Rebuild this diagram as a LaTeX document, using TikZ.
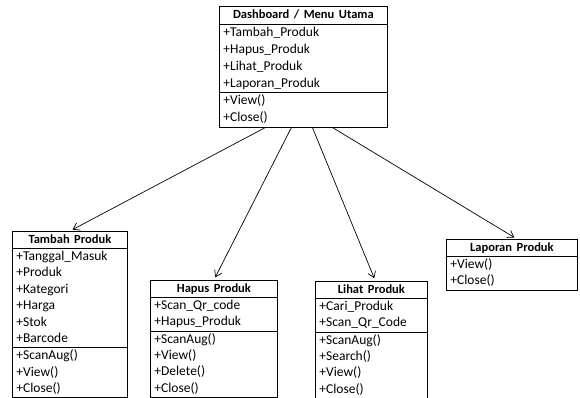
\documentclass[tikz,border=0pt]{standalone}
\usepackage{fontspec}
\setmainfont{Carlito}
\usetikzlibrary{shapes.multipart,arrows.meta}
\newcommand{\judul}[1]{\strut\makebox[\hsize]{\fontsize{12.5}{16}\selectfont\bfseries #1}}

\begin{document}
\begin{tikzpicture}[x=1pt,y=-1pt,
  kelas/.style={rectangle split,rectangle split parts=3,draw,line width=0.8pt,
    anchor=north west,text width=#1,inner xsep=4pt,inner ysep=0pt,align=left,
    font=\fontsize{13.5}{16.4}\selectfont},
  panah/.style={-{Straight Barb[length=6pt,width=8pt]},line width=0.7pt,shorten >=3pt}]
\useasboundingbox (0,0) rectangle (580,397);
\node[kelas=160pt,font=\fontsize{13.5}{16.9}\selectfont] (dashboard) at (219,6)
  {\judul{Dashboard / Menu Utama}
   \nodepart{two}\strut+Tambah\_Produk\\\strut+Hapus\_Produk\\\strut+Lihat\_Produk\\\strut+Laporan\_Produk
   \nodepart{three}\strut+View()\\\strut+Close()};
\node[kelas=107pt] (tambah) at (12,231)
  {\judul{Tambah Produk}
   \nodepart{two}\strut+Tanggal\_Masuk\\\strut+Produk\\\strut+Kategori\\\strut+Harga\\\strut+Stok\\\strut+Barcode
   \nodepart{three}\strut+ScanAug()\\\strut+View()\\\strut+Close()};
\node[kelas=119pt] (hapus) at (150,280)
  {\judul{Hapus Produk}
   \nodepart{two}\strut+Scan\_Qr\_code\\\strut+Hapus\_Produk
   \nodepart{three}\strut+ScanAug()\\\strut+View()\\\strut+Delete()\\\strut+Close()};
\node[kelas=104pt] (lihat) at (315,281)
  {\judul{Lihat Produk}
   \nodepart{two}\strut+Cari\_Produk\\\strut+Scan\_Qr\_Code
   \nodepart{three}\strut+ScanAug()\\\strut+Search()\\\strut+View()\\\strut+Close()};
\node[kelas=123pt,rectangle split parts=2] (laporan) at (446,239)
  {\judul{Laporan Produk}
   \nodepart{two}\strut+View()\\\strut+Close()};
\draw[panah] ([xshift=-38pt]dashboard.south) -- (tambah.north);
\draw[panah] ([xshift=-12pt]dashboard.south) -- (hapus.north);
\draw[panah] ([xshift=9pt]dashboard.south) -- ([xshift=4pt]lihat.north);
\draw[panah] ([xshift=29pt]dashboard.south) -- ([xshift=5pt]laporan.north);
\end{tikzpicture}
\end{document}
